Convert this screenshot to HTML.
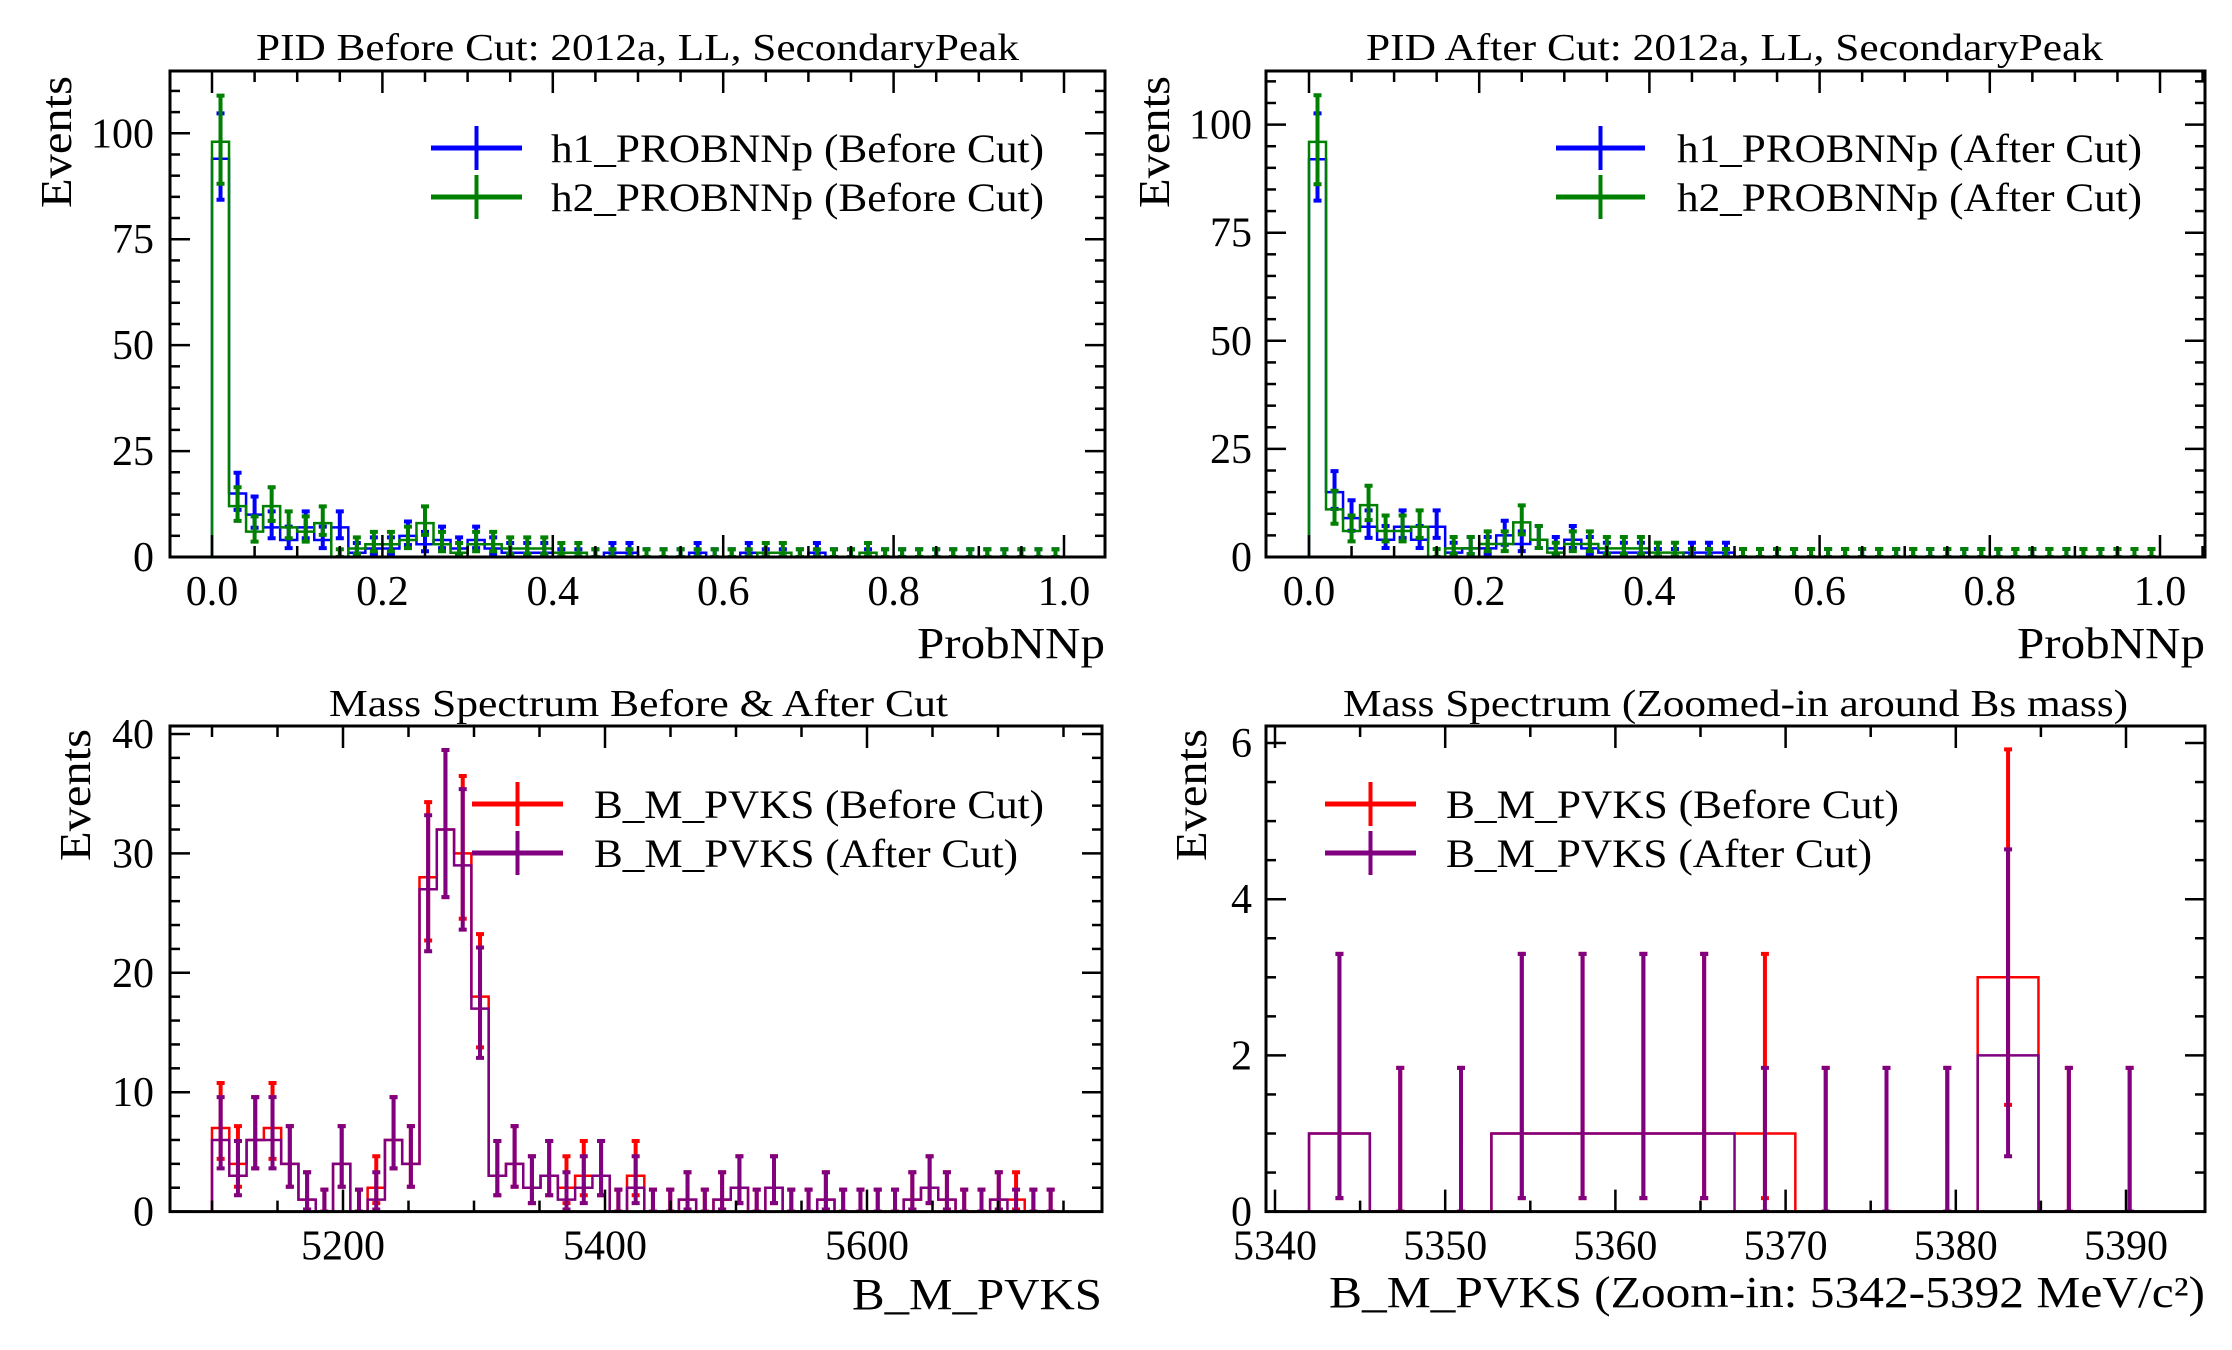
<!DOCTYPE html>
<html><head><meta charset="utf-8"><style>
html,body{margin:0;padding:0;background:#fff;}
svg{display:block;}
text{font-family:"Liberation Serif",serif;fill:#000;}
</style></head>
<body>
<svg id="fig" width="2232" height="1350" viewBox="0 0 2232 1350" xmlns="http://www.w3.org/2000/svg"></svg>
<script>
// ---- data ----
const pidEdgesMin = 0, pidBinWidth = 0.02;
const h1Before = [94,15,10,7,4,7,4,7,1,2,2,5,3,4,2,4,2,1,1,1,0,0,0,1,1,0,0,0,1,0,0,1,0,0,0,1,0,0,0,0,0,0,0,0,0,0,0,0,0,0];
const h2Before = [98,12,6,12,7,6,8,0,2,3,3,4,8,3,1,3,3,2,2,2,1,1,0,0,0,0,0,0,0,0,0,0,1,1,0,0,0,0,1,0,0,0,0,0,0,0,0,0,0,0];
const h1After  = [92,15,9,7,4,7,4,7,1,2,2,5,3,4,2,4,2,1,1,1,0,0,1,1,1,0,0,0,0,0,0,0,0,0,0,0,0,0,0,0,0,0,0,0,0,0,0,0,0,0];
const h2After  = [96,11,6,12,6,6,7,0,2,2,3,3,8,4,1,3,3,2,2,2,1,1,0,0,0,0,0,0,0,0,0,0,0,0,0,0,0,0,0,0,0,0,0,0,0,0,0,0,0,0];
const massMin = 5100, massBinWidth = 13.2;
const massBefore = [7,4,6,7,4,1,0,4,0,2,6,4,28,32,30,18,3,4,2,3,2,3,3,0,3,0,0,1,0,1,2,0,2,0,0,1,0,0,0,0,1,2,1,0,0,1,1,0,0];
const massAfter  = [6,3,6,6,4,1,0,4,0,1,6,4,27,32,29,17,3,4,2,3,1,2,3,0,2,0,0,1,0,1,2,0,2,0,0,1,0,0,0,0,1,2,1,0,0,1,0,0,0];
const zoomMin = 5342, zoomBinWidth = 50/14;
const zoomBefore = [1,0,0,1,1,1,1,1,0,0,0,3,0,0];
const zoomAfter  = [1,0,0,1,1,1,1,0,0,0,0,2,0,0];
const pidXTicks = [0,0.2,0.4,0.6,0.8,1.0];
const pidXLabels = ["0.0","0.2","0.4","0.6","0.8","1.0"];
const pidYTicks = [0,25,50,75,100];
const massXTicks = [5200,5400,5600];
const massYTicks = [0,10,20,30,40];
const zoomXTicks = [5340,5350,5360,5370,5380,5390];
const zoomYTicks = [0,2,4,6];

const NS="http://www.w3.org/2000/svg";
const svg=document.getElementById('fig');
function mk(tag,attrs,parent){const e=document.createElementNS(NS,tag);for(const k in attrs)e.setAttribute(k,attrs[k]);(parent||svg).appendChild(e);return e;}
const garw=[[0,1.841],[0.173,3.300],[0.708,4.638],[1.367,5.918],[2.086,7.163],[2.840,8.382],[3.620,9.584],[4.419,10.77],[5.232,11.95],[6.057,13.11],[6.891,14.27]];
function errs(n){if(n<=10)return garw[n];const s=Math.sqrt(n);return [n-s,n+s+1];}

function panel(cfg){
  const g=mk('g',{});
  
  
  const X=v=>cfg.x0+(v-cfg.xv0)*cfg.xs, Y=v=>cfg.y0-v*cfg.ys;
  const L=cfg.box[0],R=cfg.box[1],T=cfg.box[2],B=cfg.box[3];
  const clipId='clip-'+cfg.name;
  const cp=mk('clipPath',{id:clipId},g);mk('rect',{x:L,y:T,width:R-L,height:B-T},cp);
  const plot=mk('g',{'clip-path':'url(#'+clipId+')'},g);
  // series
  cfg.series.forEach(s=>{
    const sg=mk('g',{},plot);
    
    
    let d='M'+X(cfg.min)+','+Y(0);
    s.data.forEach((v,i)=>{const a=cfg.min+i*cfg.bw,b=a+cfg.bw;d+=' L'+X(a)+','+Y(v)+' L'+X(b)+','+Y(v);});
    d+=' L'+X(cfg.min+s.data.length*cfg.bw)+','+Y(0);
    const p=mk('path',{d:d,fill:'none',stroke:s.color,'stroke-width':2.5},sg);
    
    
    s.data.forEach((v,i)=>{const c=X(cfg.min+(i+0.5)*cfg.bw);const e=errs(v);
      const eb=mk('path',{d:'M'+c+','+Y(e[0])+' V'+Y(e[1])+' M'+(c-4)+','+Y(e[0])+' H'+(c+4)+' M'+(c-4)+','+Y(e[1])+' H'+(c+4),stroke:s.color,'stroke-width':4,fill:'none'},sg);
      
      
    });
  });
  // ticks
  const tg=mk('g',{stroke:'#000','stroke-width':2.5},g);
  
  
  for(let v=cfg.xMinorStart;v<=cfg.xMax+1e-9;v+=cfg.xMinor){const px=X(v);if(px<L+1||px>R-1)continue;
    const major=cfg.xTicks.some(t=>Math.abs(t-v)<1e-6);const len=major?22:11;
    mk('line',{x1:px,x2:px,y1:B,y2:B-len},tg);mk('line',{x1:px,x2:px,y1:T,y2:T+len},tg);}
  for(let v=0;v<=cfg.yMax+1e-9;v+=cfg.yMinor){const py=Y(v);if(py<T+1)continue;
    const major=cfg.yTicks.some(t=>Math.abs(t-v)<1e-6);const len=major?20:10;
    mk('line',{x1:L,x2:L+len,y1:py,y2:py},tg);mk('line',{x1:R,x2:R-len,y1:py,y2:py},tg);}
  const fr=mk('rect',{x:L,y:T,width:R-L,height:B-T,fill:'none',stroke:'#000','stroke-width':3},g);
  
  
  cfg.xTicks.forEach((v,i)=>{const t=mk('text',{x:X(v),y:B+48,'text-anchor':'middle','font-size':42},g);t.textContent=cfg.xLabels?cfg.xLabels[i]:String(v);
    });
  cfg.yTicks.forEach(v=>{const t=mk('text',{x:cfg.yLabX,y:Y(v)+14,'text-anchor':'end','font-size':42},g);t.textContent=String(v);
    });
  const ti=mk('text',{x:cfg.title[1],y:cfg.title[2],'font-size':38,textLength:cfg.title[3],lengthAdjust:'spacingAndGlyphs'},g);ti.textContent=cfg.title[0];
  
  const xl=mk('text',{x:R,y:cfg.xlab[1],'text-anchor':'end','font-size':44,textLength:cfg.xlab[2],lengthAdjust:'spacingAndGlyphs'},g);xl.textContent=cfg.xlab[0];
  
  const yl=mk('text',{x:0,y:0,'text-anchor':'end','font-size':44,transform:'translate('+cfg.ylab[0]+','+cfg.ylab[1]+') rotate(-90)',textLength:132,lengthAdjust:'spacingAndGlyphs'},g);yl.textContent='Events';
  
  // legend
  const lg=mk('g',{},g);
  
  cfg.series.forEach((s,i)=>{const cy=cfg.leg[2]+i*49;const x1=cfg.leg[0],x2=cfg.leg[1],cx=(x1+x2)/2;
    const e=mk('g',{},lg);
    mk('line',{x1:x1,x2:x2,y1:cy,y2:cy,stroke:s.color,'stroke-width':5},e);
    mk('line',{x1:cx,x2:cx,y1:cy-22,y2:cy+22,stroke:s.color,'stroke-width':4},e);
    const t=mk('text',{x:cfg.leg[3],y:cy+14,'font-size':40,textLength:cfg.leg[4][i],lengthAdjust:'spacingAndGlyphs'},e);t.textContent=s.label;});
}

panel({name:'pid-before-panel',box:[170,1105,71,557],x0:212,xv0:0,xs:852,y0:557,ys:4.237,min:pidEdgesMin,bw:pidBinWidth,
  xTicks:pidXTicks,xLabels:pidXLabels,xMinorStart:-0.05,xMinor:0.05,xMax:1.05,yTicks:pidYTicks,yMinor:5,yMax:114,yLabX:154,
  title:['PID Before Cut: 2012a, LL, SecondaryPeak',256,60,763],xlab:['ProbNNp',658,188],ylab:[71,76],
  leg:[431,522,148,551,[493,493]],
  series:[{name:'h1-before-series',color:'#0000ff',data:h1Before,label:'h1_PROBNNp (Before Cut)'},{name:'h2-before-series',color:'#008000',data:h2Before,label:'h2_PROBNNp (Before Cut)'}]});
panel({name:'pid-after-panel',box:[1266,2205,71,557],x0:1309,xv0:0,xs:851,y0:557,ys:4.324,min:pidEdgesMin,bw:pidBinWidth,
  xTicks:pidXTicks,xLabels:pidXLabels,xMinorStart:-0.05,xMinor:0.05,xMax:1.05,yTicks:pidYTicks,yMinor:5,yMax:112,yLabX:1252,
  title:['PID After Cut: 2012a, LL, SecondaryPeak',1366,60,737],xlab:['ProbNNp',658,188],ylab:[1169,76],
  leg:[1556,1645,148,1677,[465,465]],
  series:[{name:'h1-after-series',color:'#0000ff',data:h1After,label:'h1_PROBNNp (After Cut)'},{name:'h2-after-series',color:'#008000',data:h2After,label:'h2_PROBNNp (After Cut)'}]});
panel({name:'mass-panel',box:[170,1102,726,1211.6],x0:343,xv0:5200,xs:1.31,y0:1211.6,ys:11.94,min:massMin,bw:massBinWidth,
  xTicks:massXTicks,xMinorStart:5050,xMinor:50,xMax:5800,yTicks:massYTicks,yMinor:2,yMax:40.6,yLabX:154,
  title:['Mass Spectrum Before & After Cut',329,716,619],xlab:['B_M_PVKS',1309,250],ylab:[90,729],
  leg:[472,563,804,594,[450,424]],
  series:[{name:'mass-before-series',color:'#ff0000',data:massBefore,label:'B_M_PVKS (Before Cut)'},{name:'mass-after-series',color:'#800080',data:massAfter,label:'B_M_PVKS (After Cut)'}]});
panel({name:'mass-zoom-panel',box:[1266,2205,726,1211.6],x0:1275,xv0:5340,xs:17.02,y0:1211.6,ys:78.1,min:zoomMin,bw:zoomBinWidth,
  xTicks:zoomXTicks,xMinorStart:5335,xMinor:5,xMax:5395,yTicks:zoomYTicks,yMinor:0.5,yMax:6.2,yLabX:1252,
  title:['Mass Spectrum (Zoomed-in around Bs mass)',1343,716,785],xlab:['B_M_PVKS (Zoom-in: 5342-5392 MeV/c²)',1307,876],ylab:[1206,729],
  leg:[1325,1416,804,1446,[453,426]],
  series:[{name:'zoom-before-series',color:'#ff0000',data:zoomBefore,label:'B_M_PVKS (Before Cut)'},{name:'zoom-after-series',color:'#800080',data:zoomAfter,label:'B_M_PVKS (After Cut)'}]});
</script>
</body></html>
